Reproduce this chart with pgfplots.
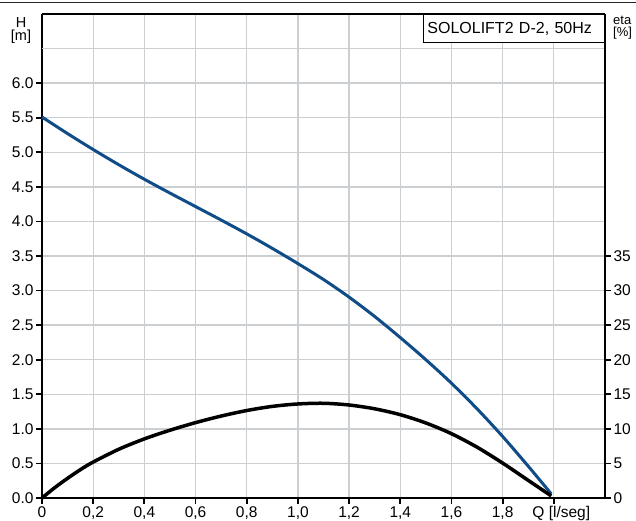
\documentclass[border=0pt]{standalone}
\usepackage{fontspec}
\setmainfont{Liberation Sans}
\usepackage{pgfplots}
\pgfplotsset{compat=1.18}
\definecolor{hblue}{RGB}{16,76,135}
\definecolor{gridc}{RGB}{204,207,210}
\begin{document}
\begin{tikzpicture}[x=1pt,y=1pt]
\useasboundingbox (-42,-23) rectangle (594,498);
\draw[line width=1.6pt,black!85] (-42,495.5) -- (594,495.5);
\begin{axis}[
  at={(0,0)}, anchor=south west,
  scale only axis, width=563pt, height=484pt,
  xmin=0, xmax=2.2, ymin=0, ymax=7,
  axis x line*=bottom, axis y line*=left,
  axis line style={-, line width=2pt, black},
  xtick={0,0.2,0.4,0.6,0.8,1.0,1.2,1.4,1.6,1.8,2.0},
  xticklabels={0,{0,2},{0,4},{0,6},{0,8},{1,0},{1,2},{1,4},{1,6},{1,8},{\hspace{15pt}Q [l/seg]}},
  ytick={0,0.5,1.0,1.5,2.0,2.5,3.0,3.5,4.0,4.5,5.0,5.5,6.0},
  yticklabels={0.0,0.5,1.0,1.5,2.0,2.5,3.0,3.5,4.0,4.5,5.0,5.5,6.0},
  extra y ticks={6.5}, extra y tick labels={}, extra y tick style={major tick length=0pt},
  grid=major,
  major grid style={gridc, line width=1.3pt},
  tick align=outside, major tick length=6pt,
  every tick/.style={black, line width=1.8pt},
  tick label style={font=\fontsize{15.5}{16}\selectfont, black},
  xticklabel style={yshift=1pt},
  yticklabel style={xshift=1pt},
  clip=false,
]
\addplot[hblue, line width=3pt, smooth] coordinates {
(0,5.51) (0.1,5.27) (0.2,5.04) (0.3,4.82) (0.4,4.61) (0.5,4.41) (0.6,4.215)
(0.7,4.02) (0.8,3.82) (0.9,3.61) (1.0,3.39) (1.1,3.16) (1.2,2.905) (1.3,2.625)
(1.4,2.32) (1.5,2.0) (1.6,1.66) (1.7,1.29) (1.8,0.89) (1.9,0.46) (1.99,0.06)
};
\draw[line width=1.2pt, black] (rel axis cs:0,1) -- (rel axis cs:1,1);
\node[draw=black, line width=1.2pt, fill=white, anchor=north east, inner xsep=4pt, inner ysep=0pt,
  minimum height=28pt, text width=173pt, align=left, font=\fontsize{16}{18}\selectfont]
  at (rel axis cs:1,1) {SOLOLIFT2 D-2, 50Hz};
\node[anchor=north, font=\fontsize{14.5}{15}\selectfont, inner sep=0pt]
  at ([xshift=-21pt,yshift=-3pt]rel axis cs:0,1) {H};
\node[anchor=north, font=\fontsize{14.5}{15}\selectfont, inner sep=0pt]
  at ([xshift=-21pt,yshift=-16pt]rel axis cs:0,1) {[m]};
\node[anchor=north west, font=\fontsize{13}{13}\selectfont, inner sep=0pt]
  at ([xshift=8pt,yshift=-2pt]rel axis cs:1,1) {eta};
\node[anchor=north west, font=\fontsize{13}{13}\selectfont, inner sep=0pt]
  at ([xshift=8pt,yshift=-13pt]rel axis cs:1,1) {[\%]};
\end{axis}
\begin{axis}[
  at={(0,0)}, anchor=south west,
  scale only axis, width=563pt, height=484pt,
  xmin=0, xmax=2.2, ymin=0, ymax=70,
  axis x line=none, axis y line*=right,
  axis line style={-, line width=2pt, black},
  ytick={0,5,10,15,20,25,30,35},
  yticklabels={0,5,10,15,20,25,30,35},
  tick align=outside, major tick length=6pt,
  every tick/.style={black, line width=1.8pt},
  tick label style={font=\fontsize{15.5}{16}\selectfont, black},
  yticklabel style={xshift=-1pt},
  clip=false,
]
\addplot[black, line width=3.5pt, smooth] coordinates {
(0,0) (0.05,1.5) (0.1,2.85) (0.15,4.1) (0.2,5.2) (0.3,7.05) (0.4,8.55)
(0.5,9.8) (0.6,10.9) (0.7,11.85) (0.8,12.65) (0.9,13.25) (1.0,13.6)
(1.1,13.7) (1.2,13.45) (1.3,12.9) (1.4,12.05) (1.5,10.85) (1.6,9.3)
(1.7,7.35) (1.8,5.05) (1.9,2.55) (1.99,0.3)
};
\end{axis}
\end{tikzpicture}
\end{document}
